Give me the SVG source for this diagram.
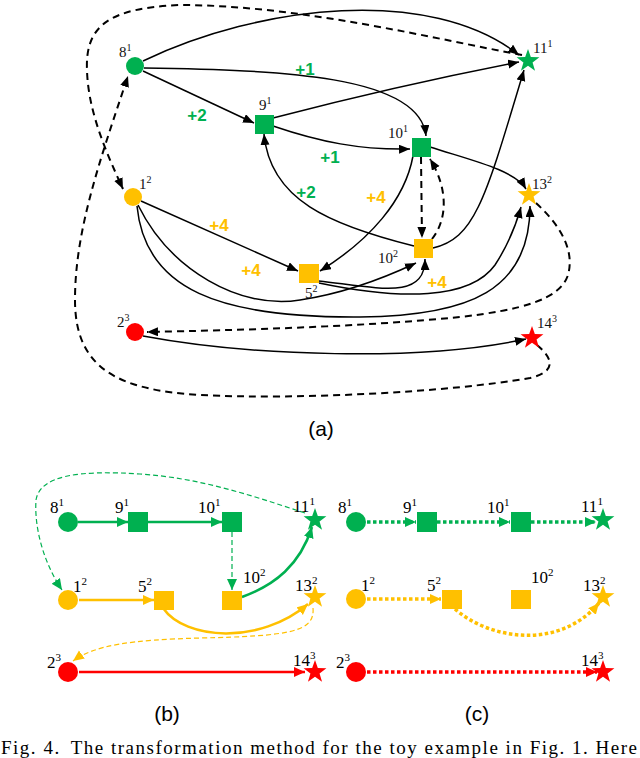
<svg xmlns="http://www.w3.org/2000/svg" width="640" height="758" viewBox="0 0 640 758">
<defs>
<marker id="ak" markerUnits="userSpaceOnUse" markerWidth="12" markerHeight="10" refX="11" refY="4.5" orient="auto"><path d="M0,0 L11,4.5 L0,9 z" fill="#000"/></marker>
<marker id="ag" markerUnits="userSpaceOnUse" markerWidth="12" markerHeight="11" refX="11" refY="5" orient="auto"><path d="M0,0 L11,5 L0,10 z" fill="#00B050"/></marker>
<marker id="ao" markerUnits="userSpaceOnUse" markerWidth="12" markerHeight="11" refX="11" refY="5" orient="auto"><path d="M0,0 L11,5 L0,10 z" fill="#FFC000"/></marker>
<marker id="ar" markerUnits="userSpaceOnUse" markerWidth="12" markerHeight="11" refX="11" refY="5" orient="auto"><path d="M0,0 L11,5 L0,10 z" fill="#FF0000"/></marker>
<path id="star" d="M0,-12 L2.82,-3.88 L11.41,-3.71 L4.57,1.48 L7.05,9.71 L0,4.8 L-7.05,9.71 L-4.57,1.48 L-11.41,-3.71 L-2.82,-3.88 Z"/>
</defs>
<style>
.s{fill:none;stroke:#000;stroke-width:1.5;marker-end:url(#ak)}
.d{fill:none;stroke:#000;stroke-width:2;stroke-dasharray:7,5;marker-end:url(#ak)}
.g{fill:#00B050}.o{fill:#FFC000}.r{fill:#FF0000}
.lb{font-family:"Liberation Serif",serif;font-size:15px;fill:#111}
.lb2{font-family:"Liberation Serif",serif;font-size:17px;fill:#000}
.sup{font-size:10px}
.sup2{font-size:11px}
.el{font-family:"Liberation Sans",sans-serif;font-size:17px;font-weight:bold;text-anchor:middle}
.cap{font-family:"Liberation Sans",sans-serif;font-size:21px;text-anchor:middle;fill:#000}
.bg{fill:none;stroke:#00B050;stroke-width:2.5;marker-end:url(#ag)}
.bo{fill:none;stroke:#FFC000;stroke-width:2.5;marker-end:url(#ao)}
.br{fill:none;stroke:#FF0000;stroke-width:2.5;marker-end:url(#ar)}
.bgd{fill:none;stroke:#00B050;stroke-width:1.2;stroke-dasharray:5,3;marker-end:url(#ag)}
.bod{fill:none;stroke:#FFC000;stroke-width:1.2;stroke-dasharray:5,3;marker-end:url(#ao)}
.cg{fill:none;stroke:#00B050;stroke-width:3.5;stroke-dasharray:3.5,2.5;marker-end:url(#ag)}
.co{fill:none;stroke:#FFC000;stroke-width:3.5;stroke-dasharray:3.5,2.5;marker-end:url(#ao)}
.cr{fill:none;stroke:#FF0000;stroke-width:3.5;stroke-dasharray:3.5,2.5;marker-end:url(#ar)}
</style>
<rect width="640" height="758" fill="#fff"/>

<!-- (a) connectors -->
<g id="edges-a">
<path class="s" d="M143,61 C260,5 430,-15 519,55"/>
<path class="s" d="M144,68 C280,70 420,75 426,136"/>
<path class="s" d="M143,71 L254,123"/>
<path class="s" d="M273,118 Q400,85 519,62"/>
<path class="s" d="M273,126 C320,142 360,150 410,149"/>
<path class="s" d="M430,147 C470,160 515,170 526,189"/>
<path class="s" d="M413,156 C405,200 370,240 320,271"/>
<path class="s" d="M414,246 C330,225 270,200 264,134"/>
<path class="s" d="M433,248 C475,238 485,200 524,70"/>
<path class="s" d="M141,201 L298,271"/>
<path class="s" d="M138,205 C170,270 240,310 300,300 C340,294 380,280 416,263"/>
<path class="s" d="M137,206 C145,290 220,318 360,317 C470,316 530,290 530,206"/>
<path class="s" d="M319,281 C380,288 425,300 425,259"/>
<path class="s" d="M319,283 C400,300 470,300 495,265 C508,245 516,225 521,207"/>
<path class="s" d="M143,336 C250,356 420,362 526,339"/>
<path class="d" d="M421,157 L422,238"/>
<path class="d" d="M432,239 C447,220 449,190 430,159"/>
<path class="d" d="M522,55 C440,40 300,5 180,5 C110,8 85,25 87,70 C88,110 105,150 123,189"/>
<path class="d" d="M537,345 C555,360 555,372 530,378 C450,392 300,400 200,395 C120,390 75,370 75,300 C75,230 100,160 128,76"/>
<path class="d" d="M536,203 C560,225 575,250 568,275 C560,300 520,310 460,317 C360,327 240,330 147,332"/>
</g>

<!-- (a) edge labels -->
<g id="edge-labels-a">
<text class="el g" x="305" y="75">+1</text>
<text class="el g" x="197" y="121">+2</text>
<text class="el g" x="330" y="163">+1</text>
<text class="el g" x="306" y="198">+2</text>
<text class="el o" x="376" y="203">+4</text>
<text class="el o" x="219" y="231">+4</text>
<text class="el o" x="251" y="276">+4</text>
<text class="el o" x="437" y="288">+4</text>
</g>

<!-- (a) nodes -->
<g id="a-8-1"><circle class="g" cx="135" cy="66" r="9"/><text class="lb" x="119" y="57">8<tspan class="sup" dy="-6">1</tspan></text></g>
<g id="a-9-1"><rect class="g" x="255" y="115" width="19" height="19"/><text class="lb" x="259" y="110">9<tspan class="sup" dy="-6">1</tspan></text></g>
<g id="a-10-1"><rect class="g" x="412" y="138" width="19" height="19"/><text class="lb" x="388" y="138">10<tspan class="sup" dy="-6">1</tspan></text></g>
<g id="a-11-1"><use href="#star" class="g" x="528" y="61"/><text class="lb" x="533" y="53">11<tspan class="sup" dy="-6">1</tspan></text></g>
<g id="a-1-2"><circle class="o" cx="133" cy="197" r="9"/><text class="lb" x="139" y="189">1<tspan class="sup" dy="-6">2</tspan></text></g>
<g id="a-5-2"><rect class="o" x="299" y="264" width="20" height="19"/><text class="lb" x="305" y="298">5<tspan class="sup" dy="-6">2</tspan></text></g>
<g id="a-10-2"><rect class="o" x="414" y="239" width="19" height="19"/><text class="lb" x="378" y="263">10<tspan class="sup" dy="-6">2</tspan></text></g>
<g id="a-13-2"><use href="#star" class="o" x="529" y="195"/><text class="lb" x="532" y="189">13<tspan class="sup" dy="-6">2</tspan></text></g>
<g id="a-2-3"><circle class="r" cx="135" cy="332" r="9"/><text class="lb" x="117" y="327">2<tspan class="sup" dy="-6">3</tspan></text></g>
<g id="a-14-3"><use href="#star" class="r" x="532" y="338"/><text class="lb" x="537" y="328">14<tspan class="sup" dy="-6">3</tspan></text></g>

<text class="cap" x="321" y="436">(a)</text>

<!-- (b) connectors -->
<g id="edges-b">
<path class="bg" d="M78,522 L128,522"/>
<path class="bg" d="M148,522 L222,522"/>
<path class="bgd" d="M232,532 L232,590"/>
<path class="bg" d="M242,597 C275,585 300,565 312,527"/>
<path class="bgd" d="M305,513 C250,495 200,478 140,474 C80,470 40,475 36,500 C34,530 45,565 62,590"/>
<path class="bo" d="M79,600 L154,600"/>
<path class="bo" d="M163,608 C185,640 260,645 308,604"/>
<path class="bod" d="M313,608 C315,632 290,636 200,638 C130,640 95,645 73,661"/>
<path class="br" d="M79,672 L305,672"/>
</g>

<!-- (b) nodes -->
<g id="b-8-1"><circle class="g" cx="68" cy="522" r="10"/><text class="lb2" x="50" y="513">8<tspan class="sup2" dy="-7">1</tspan></text></g>
<g id="b-9-1"><rect class="g" x="128" y="512" width="20" height="20"/><text class="lb2" x="115" y="513">9<tspan class="sup2" dy="-7">1</tspan></text></g>
<g id="b-10-1"><rect class="g" x="222" y="512" width="20" height="20"/><text class="lb2" x="198" y="513">10<tspan class="sup2" dy="-7">1</tspan></text></g>
<g id="b-11-1"><use href="#star" class="g" x="315" y="520"/><text class="lb2" x="293" y="512">11<tspan class="sup2" dy="-7">1</tspan></text></g>
<g id="b-1-2"><circle class="o" cx="68" cy="600" r="10"/><text class="lb2" x="73" y="592">1<tspan class="sup2" dy="-7">2</tspan></text></g>
<g id="b-5-2"><rect class="o" x="154" y="591" width="20" height="19"/><text class="lb2" x="138" y="592">5<tspan class="sup2" dy="-7">2</tspan></text></g>
<g id="b-10-2"><rect class="o" x="222" y="591" width="20" height="19"/><text class="lb2" x="243" y="583">10<tspan class="sup2" dy="-7">2</tspan></text></g>
<g id="b-13-2"><use href="#star" class="o" x="315" y="597"/><text class="lb2" x="295" y="591">13<tspan class="sup2" dy="-7">2</tspan></text></g>
<g id="b-2-3"><circle class="r" cx="68" cy="672" r="10"/><text class="lb2" x="47" y="668">2<tspan class="sup2" dy="-7">3</tspan></text></g>
<g id="b-14-3"><use href="#star" class="r" x="315" y="672"/><text class="lb2" x="293" y="666">14<tspan class="sup2" dy="-7">3</tspan></text></g>

<!-- (c) connectors -->
<g id="edges-c">
<path class="cg" d="M367,522 L416,522"/>
<path class="cg" d="M437,522 L510,522"/>
<path class="cg" d="M531,522 L596,522"/>
<path class="co" d="M367,599 L441,599"/>
<path class="co" d="M455,609 C490,640 560,650 599,603"/>
<path class="cr" d="M367,672 L597,672"/>
</g>

<!-- (c) nodes -->
<g id="c-8-1"><circle class="g" cx="356" cy="522" r="10"/><text class="lb2" x="338" y="513">8<tspan class="sup2" dy="-7">1</tspan></text></g>
<g id="c-9-1"><rect class="g" x="417" y="512" width="20" height="20"/><text class="lb2" x="403" y="513">9<tspan class="sup2" dy="-7">1</tspan></text></g>
<g id="c-10-1"><rect class="g" x="511" y="512" width="20" height="20"/><text class="lb2" x="487" y="513">10<tspan class="sup2" dy="-7">1</tspan></text></g>
<g id="c-11-1"><use href="#star" class="g" x="603" y="520"/><text class="lb2" x="581" y="512">11<tspan class="sup2" dy="-7">1</tspan></text></g>
<g id="c-1-2"><circle class="o" cx="356" cy="599" r="10"/><text class="lb2" x="361" y="591">1<tspan class="sup2" dy="-7">2</tspan></text></g>
<g id="c-5-2"><rect class="o" x="442" y="590" width="20" height="19"/><text class="lb2" x="427" y="591">5<tspan class="sup2" dy="-7">2</tspan></text></g>
<g id="c-10-2"><rect class="o" x="511" y="590" width="20" height="19"/><text class="lb2" x="531" y="583">10<tspan class="sup2" dy="-7">2</tspan></text></g>
<g id="c-13-2"><use href="#star" class="o" x="603" y="597"/><text class="lb2" x="583" y="591">13<tspan class="sup2" dy="-7">2</tspan></text></g>
<g id="c-2-3"><circle class="r" cx="356" cy="672" r="10"/><text class="lb2" x="336" y="668">2<tspan class="sup2" dy="-7">3</tspan></text></g>
<g id="c-14-3"><use href="#star" class="r" x="603" y="672"/><text class="lb2" x="581" y="666">14<tspan class="sup2" dy="-7">3</tspan></text></g>

<text class="cap" x="167" y="721">(b)</text>
<text class="cap" x="477" y="721">(c)</text>
<text x="1" y="754" font-family="Liberation Serif, serif" font-size="19" fill="#000" textLength="636" lengthAdjust="spacing">Fig. 4.<tspan dx="10">The transformation method for the toy example in Fig. 1. Here</tspan></text>
</svg>
